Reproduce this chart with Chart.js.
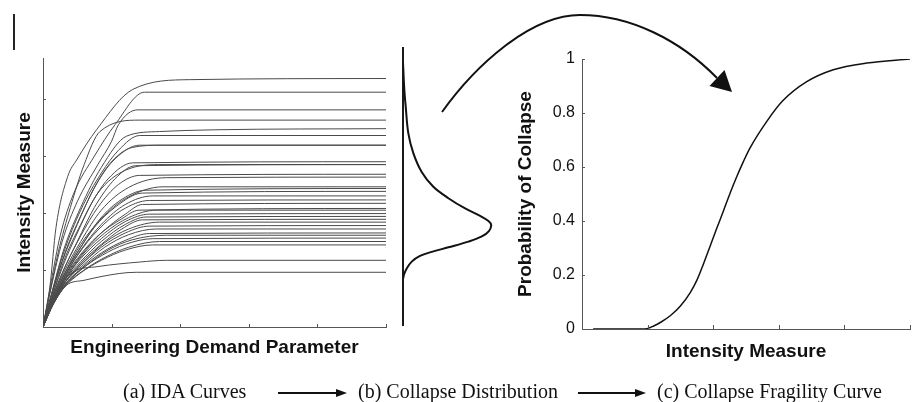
<!DOCTYPE html>
<html>
<head>
<meta charset="utf-8">
<script src="https://cdn.jsdelivr.net/npm/chart.js@4.4.1/dist/chart.umd.min.js"></script>
<style>
  html, body { margin: 0; padding: 0; background: #fff; }
  #wrap { position: relative; width: 912px; height: 402px; overflow: hidden; }
  #wrap canvas, #wrap svg { position: absolute; left: 0; top: 0; }
  #edge { position: absolute; left: 13px; top: 14px; width: 2px; height: 36px; background: #222; }
</style>
</head>
<body>
<div id="wrap">
  <canvas id="ida" width="912" height="402"></canvas>
  <canvas id="pdf" width="912" height="402"></canvas>
  <canvas id="cdf" width="912" height="402"></canvas>
  <svg id="notes" width="912" height="402"></svg>
  <div id="edge"></div>
</div>
<script>
// (a) IDA curves: [EDP, IM] points, one list per ground motion
const idaCurves = [
  [[0,0],[0.1,0.7],[0.19,1.75],[0.36,2.64],[0.49,2.93],[0.78,3.46],[1.31,4.17],[2.14,4.34],[5,4.36]],
  [[0,0],[0.12,0.8],[0.25,1.6],[0.45,2.35],[0.75,3.0],[1.05,3.55],[1.48,4.12],[5,4.12]],
  [[0,0],[0.12,0.7],[0.28,1.5],[0.5,2.2],[0.8,2.85],[1.0,3.26],[1.1,3.55],[1.38,3.81],[5,3.81]],
  [[0,0],[0.1,0.6],[0.22,1.3],[0.4,2.1],[0.6,2.85],[0.83,3.43],[1.41,3.63],[5,3.63]],
  [[0,0],[0.15,0.7],[0.3,1.35],[0.55,2.1],[0.85,2.8],[1.22,3.35],[1.7,3.43],[2.5,3.46],[5,3.48]],
  [[0,0],[0.13,0.6],[0.3,1.3],[0.55,2.05],[0.85,2.7],[1.1,3.1],[1.41,3.36],[5,3.36]],
  [[0,0],[0.15,0.65],[0.32,1.3],[0.55,1.95],[0.8,2.55],[1.05,2.95],[1.41,3.19],[5,3.19]],
  [[0,0],[0.12,0.55],[0.28,1.15],[0.5,1.8],[0.75,2.45],[1.0,2.9],[1.3,3.15],[1.75,3.19],[5,3.19]],
  [[0,0],[0.14,0.55],[0.3,1.1],[0.5,1.65],[0.7,2.15],[0.95,2.6],[1.31,2.88],[5,2.9]],
  [[0,0],[0.15,0.6],[0.3,1.15],[0.55,1.8],[0.8,2.35],[1.2,2.75],[1.75,2.85],[5,2.85]],
  [[0,0],[0.12,0.45],[0.3,1.0],[0.5,1.5],[0.75,2.1],[1.05,2.6],[1.35,2.83],[5,2.85]],
  [[0,0],[0.15,0.55],[0.32,1.05],[0.55,1.6],[0.8,2.1],[1.1,2.5],[1.41,2.66],[5,2.68]],
  [[0,0],[0.14,0.5],[0.3,0.95],[0.55,1.5],[0.85,2.05],[1.25,2.45],[1.8,2.62],[5,2.63]],
  [[0,0],[0.15,0.5],[0.32,0.95],[0.55,1.45],[0.85,1.9],[1.2,2.25],[1.75,2.46],[5,2.46]],
  [[0,0],[0.13,0.45],[0.3,0.9],[0.55,1.4],[0.8,1.85],[1.1,2.2],[1.5,2.4],[5,2.43]],
  [[0,0],[0.12,0.4],[0.28,0.85],[0.5,1.3],[0.75,1.75],[1.05,2.1],[1.45,2.35],[5,2.38]],
  [[0,0],[0.15,0.45],[0.32,0.9],[0.55,1.35],[0.85,1.8],[1.2,2.15],[1.6,2.3],[5,2.3]],
  [[0,0],[0.13,0.4],[0.3,0.85],[0.5,1.25],[0.8,1.7],[1.15,2.05],[1.55,2.22],[5,2.23]],
  [[0,0],[0.14,0.42],[0.3,0.82],[0.55,1.25],[0.85,1.65],[1.2,1.98],[1.45,2.15],[5,2.17]],
  [[0,0],[0.12,0.38],[0.28,0.8],[0.5,1.2],[0.8,1.6],[1.15,1.9],[1.4,2.05],[5,2.08]],
  [[0,0],[0.15,0.45],[0.33,0.85],[0.6,1.3],[0.9,1.65],[1.25,1.92],[1.65,2.05],[5,2.05]],
  [[0,0],[0.13,0.4],[0.3,0.8],[0.55,1.2],[0.85,1.55],[1.2,1.85],[1.55,1.98],[5,1.99]],
  [[0,0],[0.14,0.4],[0.32,0.82],[0.55,1.15],[0.85,1.5],[1.2,1.8],[1.5,1.93],[5,1.94]],
  [[0,0],[0.12,0.36],[0.3,0.75],[0.55,1.12],[0.85,1.45],[1.15,1.72],[1.45,1.88],[5,1.89]],
  [[0,0],[0.15,0.42],[0.33,0.8],[0.6,1.15],[0.9,1.48],[1.25,1.72],[1.7,1.84],[5,1.84]],
  [[0,0],[0.13,0.38],[0.3,0.75],[0.55,1.08],[0.85,1.4],[1.2,1.65],[1.55,1.77],[5,1.78]],
  [[0,0],[0.14,0.4],[0.32,0.78],[0.6,1.1],[0.9,1.4],[1.25,1.62],[1.65,1.72],[5,1.72]],
  [[0,0],[0.12,0.35],[0.3,0.72],[0.55,1.02],[0.85,1.3],[1.2,1.52],[1.55,1.64],[5,1.65]],
  [[0,0],[0.15,0.4],[0.33,0.75],[0.6,1.05],[0.95,1.35],[1.3,1.53],[1.8,1.61],[5,1.61]],
  [[0,0],[0.13,0.36],[0.3,0.7],[0.55,1.0],[0.85,1.25],[1.2,1.45],[1.6,1.55],[5,1.56]],
  [[0,0],[0.14,0.38],[0.32,0.72],[0.6,1.0],[0.9,1.22],[1.25,1.4],[1.7,1.5],[5,1.5]],
  [[0,0],[0.12,0.34],[0.3,0.68],[0.55,0.95],[0.85,1.17],[1.2,1.35],[1.6,1.44],[5,1.44]],
  [[0,0],[0.15,0.45],[0.3,0.8],[0.44,0.97],[0.8,1.06],[1.41,1.14],[1.8,1.17],[5,1.17]],
  [[0,0],[0.15,0.4],[0.34,0.73],[0.6,0.82],[1.12,0.94],[1.36,0.96],[5,0.96]]
];
const idaXTicks = [1, 2, 3, 4, 5];
const idaYTicks = [1, 2, 3, 4];

// (b) collapse distribution, drawn sideways: IM up, density across
const pdfIM = [4.59, 4.12, 3.82, 3.36, 3.01, 2.68, 2.42, 2.22, 2.04, 1.91, 1.82, 1.75,
               1.65, 1.55, 1.46, 1.36, 1.28, 1.21, 1.11, 0.99, 0.88, 0.82];
const pdfDensity = [0, 0.015, 0.031, 0.06, 0.117, 0.212, 0.344, 0.515, 0.705, 0.875, 0.969, 1.0,
                    0.977, 0.894, 0.742, 0.515, 0.326, 0.193, 0.099, 0.042, 0.011, 0.003];

// (c) collapse fragility curve
const cdfIM = [0.17, 0.96, 1.1, 1.2, 1.35, 1.5, 1.65, 1.75, 1.85, 1.95, 2.05, 2.16, 2.26,
               2.36, 2.46, 2.56, 2.82, 3.06, 3.42, 3.83, 4.34, 5.0];
const cdfProb = [0, 0, 0.012, 0.025, 0.05, 0.085, 0.135, 0.18, 0.24, 0.305, 0.37, 0.44, 0.505,
                 0.565, 0.62, 0.67, 0.77, 0.845, 0.915, 0.96, 0.985, 1.0];
const cdfXTicks = [1, 2, 3, 4, 5];
const probTicks = [0, 0.2, 0.4, 0.6, 0.8, 1];

const sans = 'Liberation Sans, Arial, sans-serif';
const titleFont = { family: sans, size: 19, weight: 'bold' };

// MATLAB style ticks pointing into the plot
const innerTicks = {
  id: 'innerTicks',
  afterDraw(chart, args, opts) {
    const { ctx, chartArea } = chart;
    ctx.save();
    ctx.strokeStyle = opts.color || '#444';
    ctx.lineWidth = 1;
    ['x', 'y'].forEach(id => {
      const s = chart.scales[id];
      const len = opts[id];
      if (!s || !len) return;
      s.ticks.forEach(t => {
        if (t.value === s.min) return;
        const p = Math.round(s.getPixelForValue(t.value)) + 0.5;
        ctx.beginPath();
        if (id === 'x') {
          ctx.moveTo(p, chartArea.bottom);
          ctx.lineTo(p, chartArea.bottom - len);
        } else {
          ctx.moveTo(chartArea.left, p);
          ctx.lineTo(chartArea.left + len, p);
        }
        ctx.stroke();
      });
    });
    ctx.restore();
  }
};

function setTicks(values) {
  return scale => { scale.ticks = values.map(v => ({ value: v })); };
}

// (a)
new Chart(document.getElementById('ida'), {
  type: 'line',
  data: {
    datasets: idaCurves.map(c => ({
      data: c.map(p => ({ x: p[0], y: p[1] })),
      borderColor: '#4a4a4a',
      borderWidth: 1,
      pointRadius: 0,
      cubicInterpolationMode: 'monotone',
      fill: false
    }))
  },
  options: {
    responsive: false,
    animation: false,
    devicePixelRatio: 1,
    layout: { padding: { left: 8, top: 58, right: 526, bottom: 39 } },
    plugins: { legend: { display: false }, tooltip: { enabled: false }, innerTicks: { x: 3, y: 3, color: '#555' } },
    scales: {
      x: {
        type: 'linear', min: 0, max: 5,
        afterBuildTicks: setTicks(idaXTicks),
        ticks: { display: false },
        grid: { display: false, drawTicks: false },
        border: { display: true, color: '#555', width: 1 },
        title: { display: true, text: 'Engineering Demand Parameter', font: titleFont, color: '#111', padding: { top: 0, bottom: 4 } },
        afterFit: s => { s.height = 36; }
      },
      y: {
        type: 'linear', min: 0, max: 4.72,
        afterBuildTicks: setTicks(idaYTicks),
        ticks: { display: false },
        grid: { display: false, drawTicks: false },
        border: { display: true, color: '#555', width: 1 },
        title: { display: true, text: 'Intensity Measure', font: titleFont, color: '#111', padding: { top: 5, bottom: 0 } },
        afterFit: s => { s.width = 35; }
      }
    }
  },
  plugins: [innerTicks]
});

// (b)
new Chart(document.getElementById('pdf'), {
  type: 'scatter',
  data: {
    datasets: [{
      data: pdfIM.map((v, i) => ({ x: pdfDensity[i], y: v })),
      showLine: true,
      borderColor: '#111',
      borderWidth: 2,
      pointRadius: 0,
      tension: 0.35
    }]
  },
  options: {
    responsive: false,
    animation: false,
    devicePixelRatio: 1,
    layout: { padding: { left: 403, top: 48, right: 412, bottom: 77 } },
    plugins: { legend: { display: false }, tooltip: { enabled: false } },
    scales: {
      x: { type: 'linear', min: 0, max: 1.1, display: false },
      y: {
        type: 'linear', min: 0, max: 4.85,
        ticks: { display: false },
        grid: { display: false, drawTicks: false },
        border: { display: true, color: '#1a1a1a', width: 2 },
        afterFit: s => { s.width = 0; }
      }
    }
  }
});

// (c)
new Chart(document.getElementById('cdf'), {
  type: 'scatter',
  data: {
    datasets: [{
      data: cdfIM.map((v, i) => ({ x: v, y: cdfProb[i] })),
      showLine: true,
      borderColor: '#111',
      borderWidth: 1.5,
      pointRadius: 0,
      cubicInterpolationMode: 'monotone'
    }]
  },
  options: {
    responsive: false,
    animation: false,
    devicePixelRatio: 1,
    layout: { padding: { left: 508, top: 59, right: 2, bottom: 37 } },
    plugins: { legend: { display: false }, tooltip: { enabled: false }, innerTicks: { x: 4, y: 3, color: '#555' } },
    scales: {
      x: {
        type: 'linear', min: 0, max: 5,
        afterBuildTicks: setTicks(cdfXTicks),
        ticks: { display: false },
        grid: { display: false, drawTicks: false },
        border: { display: true, color: '#555', width: 1 },
        title: { display: true, text: 'Intensity Measure', font: titleFont, color: '#111', padding: { top: 0, bottom: 2 } },
        afterFit: s => { s.height = 36; }
      },
      y: {
        type: 'linear', min: 0, max: 1,
        afterBuildTicks: setTicks(probTicks),
        ticks: { font: { family: sans, size: 16 }, color: '#111', padding: 7, callback: v => String(v) },
        grid: { display: false, drawTicks: false },
        border: { display: true, color: '#555', width: 1 },
        title: { display: true, text: 'Probability of Collapse', font: titleFont, color: '#111', padding: { top: 6, bottom: 0 } },
        afterFit: s => { s.width = 74; }
      }
    }
  },
  plugins: [innerTicks]
});

// big arrow from (b) to (c) and the caption row
const svg = document.getElementById('notes');
svg.innerHTML =
  '<path d="M442,112 C475,66 530,15 580,15 C630,15 680,40 717,78" fill="none" stroke="#111" stroke-width="2"/>' +
  '<polygon points="732,92 724.5,70 709.5,86" fill="#111"/>' +
  '<g font-family="Liberation Serif, Times New Roman, serif" font-size="20" fill="#111">' +
  '<text x="123" y="398">(a) IDA Curves</text>' +
  '<text x="358" y="398">(b) Collapse Distribution</text>' +
  '<text x="657" y="398">(c) Collapse Fragility Curve</text>' +
  '</g>' +
  '<line x1="278" y1="393" x2="338" y2="393" stroke="#111" stroke-width="2"/>' +
  '<polygon points="347,393 336,389 336,397" fill="#111"/>' +
  '<line x1="578" y1="393" x2="637" y2="393" stroke="#111" stroke-width="2"/>' +
  '<polygon points="646,393 635,389 635,397" fill="#111"/>';
</script>
</body>
</html>
